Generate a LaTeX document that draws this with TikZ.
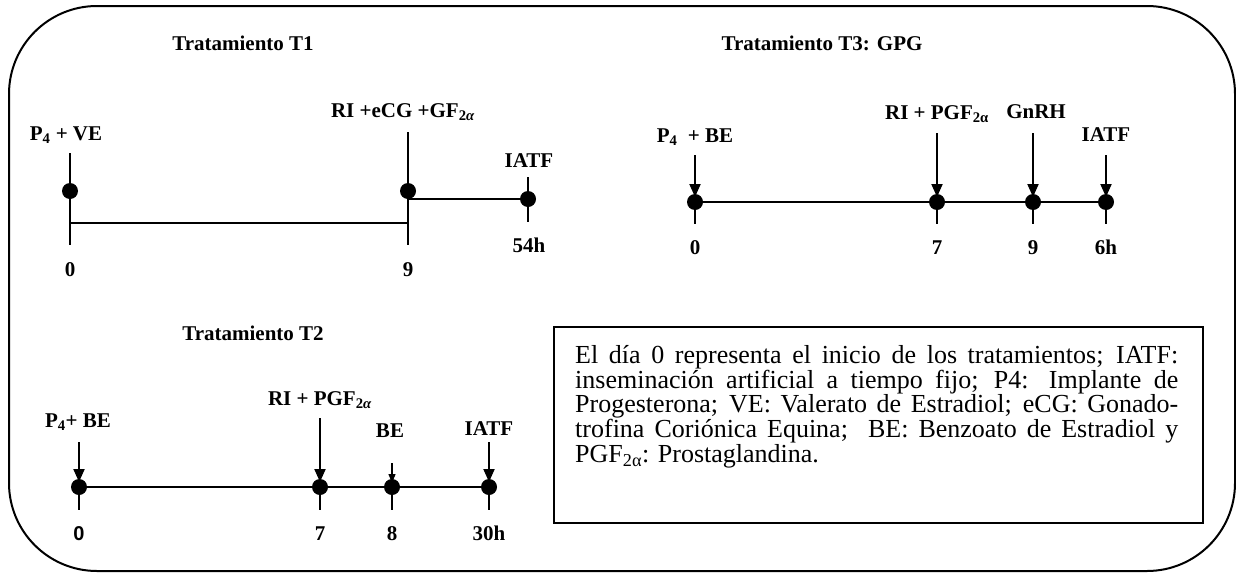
\documentclass[tikz,border=0pt]{standalone}
\usepackage{fontspec}
\setmainfont{Liberation Serif}
\newfontfamily\lsans{Liberation Sans}
\usetikzlibrary{arrows.meta}
\begin{document}
\begin{tikzpicture}[x=1pt,y=-1pt,
  lbl/.style={font=\bfseries\fontsize{21}{23}\selectfont, inner sep=0pt, anchor=base},
  dot/.style={circle, fill=black, minimum size=16pt, inner sep=0pt},
  thin1/.style={line width=1.6pt},
  tl/.style={line width=2pt},
  arr/.style={line width=2pt, shorten >=5pt, -{Triangle[length=13pt,width=11pt]}},
  sarr/.style={line width=1.2pt, shorten >=4pt, -{Triangle[length=9pt,width=7pt]}},
  frame/.style={line width=2pt}]
\useasboundingbox (0,0) rectangle (1236,573);
\draw[frame, rounded corners=88pt] (9,6) rectangle (1235,571);

% ---------- T1 ----------
\node[lbl] (t1title) at (243,50) {Tratamiento T1};
\node[lbl] (t1l1) at (66,140) {P\textsubscript{4} + VE};
\node[lbl] (t1l2) at (403,117) {RI +eCG +GF\textsubscript{2\textit{α}}};
\node[lbl] (t1l3) at (529,167) {IATF};
\node[lbl] (t1n1) at (70,276) {0};
\node[lbl] (t1n2) at (408,276) {9};
\node[lbl] (t1n3) at (529,252) {54h};
\coordinate (t1a1) at (70,153); \coordinate (t1b1) at (70,245);
\coordinate (t1a2) at (408,132); \coordinate (t1b2) at (408,245);
\coordinate (t1a3) at (528,177); \coordinate (t1b3) at (528,222);
\coordinate (t1h1) at (70,223); \coordinate (t1h2) at (408,223);
\coordinate (t1u1) at (408,199);
\draw[thin1] (t1a1) -- (t1b1);
\draw[thin1] (t1a2) -- (t1b2);
\draw[thin1] (t1a3) -- (t1b3);
\draw[thin1] (t1h1) -- (t1h2);
\node[dot] (t1d1) at (70,191) {};
\node[dot] (t1d2) at (408,191) {};
\node[dot] (t1d3) at (528,199) {};
\draw[thin1] (t1u1) -- (t1d3.center);

% ---------- T3 ----------
\node[lbl] (t3title) at (822,50) {Tratamiento T3: GPG};
\node[lbl] (t3l1) at (695,142) {P\textsubscript{4}\ \ + BE};
\node[lbl] (t3l2) at (937,119) {RI + PGF\textsubscript{2α}};
\node[lbl] (t3l3) at (1036,118) {GnRH};
\node[lbl] (t3l4) at (1106,141) {IATF};
\node[lbl] (t3n1) at (695,254) {0};
\node[lbl] (t3n2) at (937,254) {7};
\node[lbl] (t3n3) at (1033,254) {9};
\node[lbl] (t3n4) at (1106,254) {6h};
\node[dot] (t3d1) at (695,202) {};
\node[dot] (t3d2) at (937,202) {};
\node[dot] (t3d3) at (1033,202) {};
\node[dot] (t3d4) at (1106,202) {};
\coordinate (t3a1) at (695,155); \coordinate (t3b1) at (695,224);
\coordinate (t3a2) at (937,133); \coordinate (t3b2) at (937,224);
\coordinate (t3a3) at (1033,133); \coordinate (t3b3) at (1033,224);
\coordinate (t3a4) at (1106,155); \coordinate (t3b4) at (1106,224);
\draw[tl] (t3d1.center) -- (t3d2.center) -- (t3d3.center) -- (t3d4.center);
\draw[tl] (t3d1.center) -- (t3b1);
\draw[tl] (t3d2.center) -- (t3b2);
\draw[tl] (t3d3.center) -- (t3b3);
\draw[tl] (t3d4.center) -- (t3b4);
\draw[arr] (t3a1) -- (t3d1.center);
\draw[arr] (t3a2) -- (t3d2.center);
\draw[arr] (t3a3) -- (t3d3.center);
\draw[arr] (t3a4) -- (t3d4.center);

% ---------- T2 ----------
\node[lbl] (t2title) at (253,340) {Tratamiento T2};
\node[lbl] (t2l1) at (78,427) {P\textsubscript{4}+ BE};
\node[lbl] (t2l2) at (320,405) {RI + PGF\textsubscript{2\textit{α}}};
\node[lbl] (t2l3) at (390,437) {BE};
\node[lbl] (t2l4) at (489,435) {IATF};
\node[lbl, font=\lsans\bfseries\fontsize{20}{23}\selectfont] (t2n1) at (79,540) {0};
\node[lbl] (t2n2) at (320,540) {7};
\node[lbl] (t2n3) at (392,540) {8};
\node[lbl] (t2n4) at (489,540) {30h};
\node[dot] (t2d1) at (79,487) {};
\node[dot] (t2d2) at (320,487) {};
\node[dot] (t2d3) at (392,487) {};
\node[dot] (t2d4) at (489,487) {};
\coordinate (t2a1) at (79,442); \coordinate (t2b1) at (79,510);
\coordinate (t2a2) at (320,418); \coordinate (t2b2) at (320,510);
\coordinate (t2a3) at (392,463); \coordinate (t2b3) at (392,510);
\coordinate (t2a4) at (489,442); \coordinate (t2b4) at (489,510);
\draw[tl] (t2d1.center) -- (t2d2.center) -- (t2d3.center) -- (t2d4.center);
\draw[tl] (t2d1.center) -- (t2b1);
\draw[tl] (t2d2.center) -- (t2b2);
\draw[line width=1.2pt] (t2d3.center) -- (t2b3);
\draw[tl] (t2d4.center) -- (t2b4);
\draw[arr] (t2a1) -- (t2d1.center);
\draw[arr] (t2a2) -- (t2d2.center);
\draw[sarr] (t2a3) -- (t2d3.center);
\draw[arr] (t2a4) -- (t2d4.center);

% ---------- note box ----------
\draw[frame] (554,327) rectangle (1203,523);
\node[inner sep=0pt, anchor=north west, text width=603pt, align=justify,
      font=\fontsize{26}{23.5}\selectfont] (note) at (575,345)
{El día 0 representa el inicio de los tratamientos; IATF:\linebreak
inseminación artificial a tiempo fijo; P4: Implante de\linebreak
Progesterona; VE: Valerato de Estradiol; eCG: Gonado-\linebreak
trofina Coriónica Equina;\ \ BE: Benzoato de Estradiol y\linebreak
PGF\textsubscript{2α}: Prostaglandina.};
\end{tikzpicture}
\end{document}
